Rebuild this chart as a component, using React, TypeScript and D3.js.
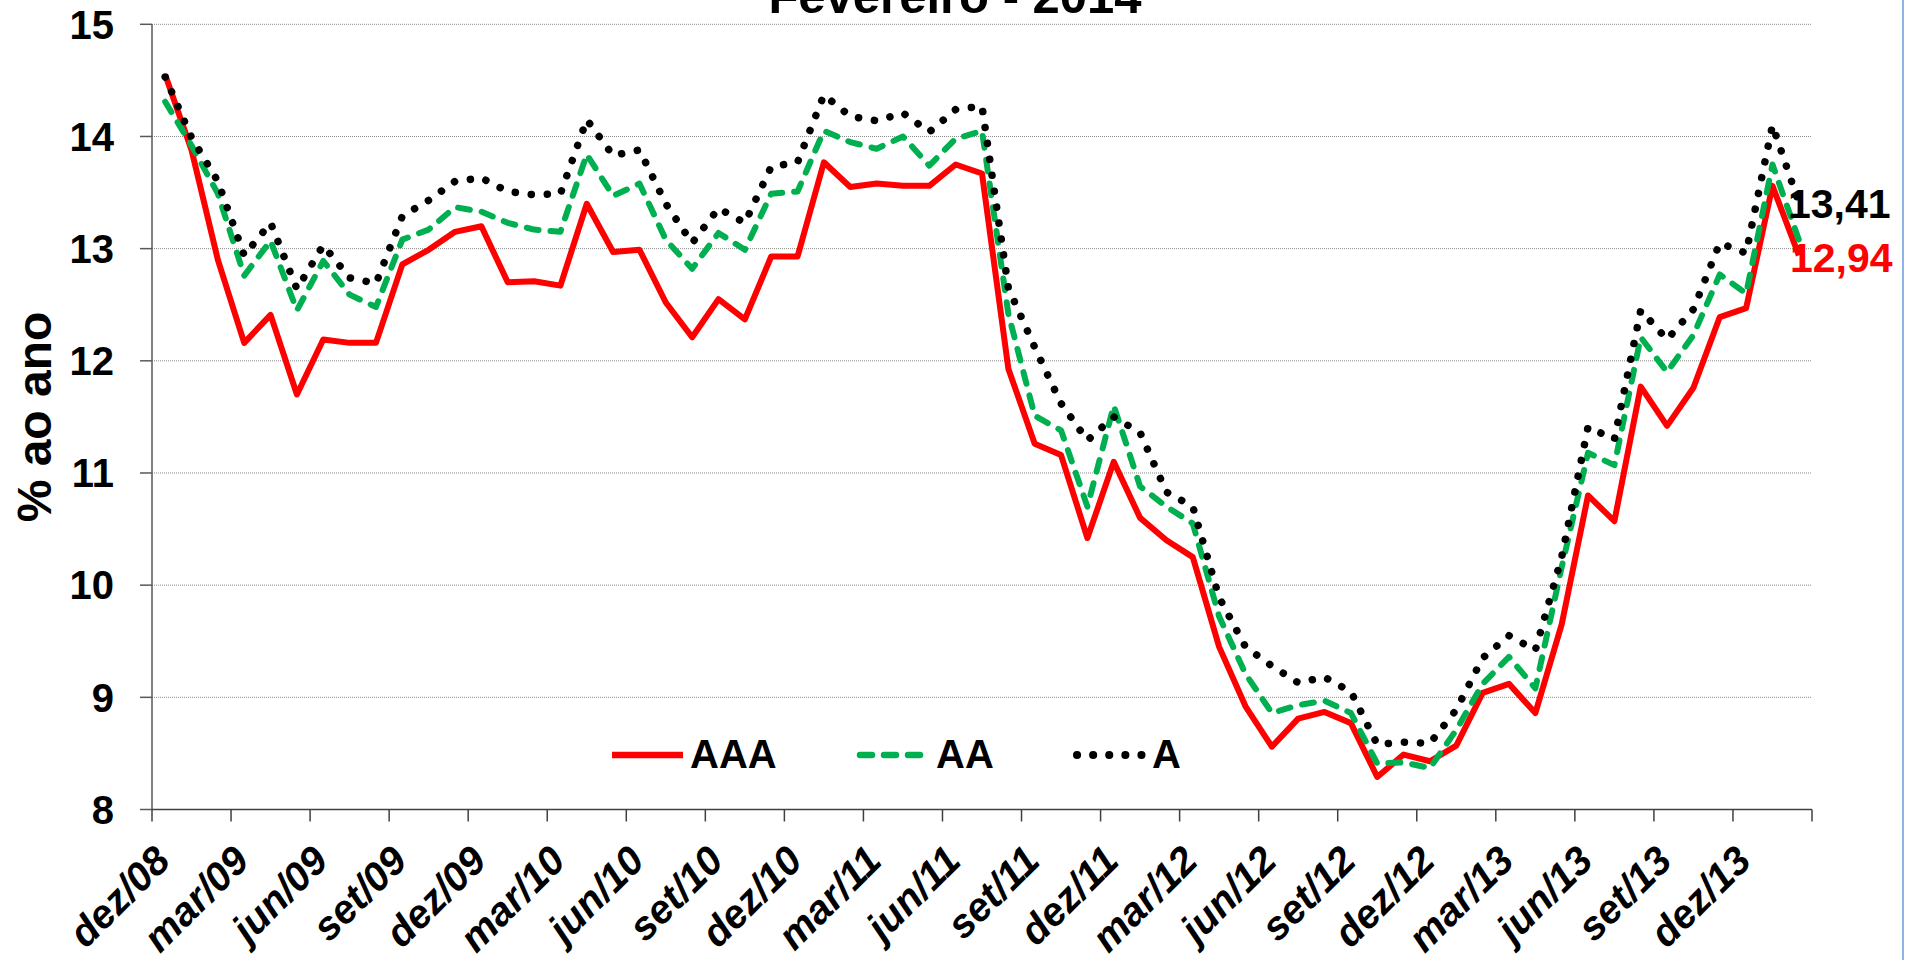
import React from "react";
import * as d3 from "d3";

const categories: string[] = [
  "dez/08","jan/09","fev/09","mar/09","abr/09","mai/09","jun/09","jul/09","ago/09","set/09","out/09","nov/09",
  "dez/09","jan/10","fev/10","mar/10","abr/10","mai/10","jun/10","jul/10","ago/10","set/10","out/10","nov/10",
  "dez/10","jan/11","fev/11","mar/11","abr/11","mai/11","jun/11","jul/11","ago/11","set/11","out/11","nov/11",
  "dez/11","jan/12","fev/12","mar/12","abr/12","mai/12","jun/12","jul/12","ago/12","set/12","out/12","nov/12",
  "dez/12","jan/13","fev/13","mar/13","abr/13","mai/13","jun/13","jul/13","ago/13","set/13","out/13","nov/13",
  "dez/13","jan/14","fev/14",
];

const seriesAAA: number[] = [
  14.55, 13.88, 12.90, 12.16, 12.41, 11.70, 12.19, 12.16, 12.16, 12.86, 12.99, 13.15,
  13.20, 12.70, 12.71, 12.67, 13.40, 12.97, 12.99, 12.52, 12.21, 12.55, 12.37, 12.93,
  12.93, 13.77, 13.55, 13.58, 13.56, 13.56, 13.75, 13.67, 11.93, 11.26, 11.16, 10.42,
  11.10, 10.60, 10.40, 10.25, 9.45, 8.92, 8.56, 8.81, 8.87, 8.77, 8.29, 8.49,
  8.43, 8.57, 9.04, 9.12, 8.86, 9.65, 10.80, 10.57, 11.77, 11.42, 11.76, 12.39,
  12.47, 13.56, 12.94,
];

const seriesAA: number[] = [
  14.31, 13.92, 13.49, 12.76, 13.07, 12.45, 12.89, 12.59, 12.48, 13.08, 13.17, 13.37,
  13.33, 13.23, 13.17, 13.15, 13.84, 13.47, 13.58, 13.08, 12.82, 13.14, 12.99, 13.49,
  13.51, 14.05, 13.95, 13.89, 14.00, 13.74, 13.98, 14.05, 12.42, 11.51, 11.38, 10.70,
  11.60, 10.88, 10.70, 10.55, 9.72, 9.21, 8.86, 8.93, 8.97, 8.86, 8.41, 8.42,
  8.37, 8.71, 9.12, 9.36, 9.08, 10.16, 11.18, 11.07, 12.21, 11.90, 12.23, 12.77,
  12.60, 13.75, 13.08,
];

const seriesA: number[] = [
  14.53, 13.99, 13.60, 12.94, 13.23, 12.64, 13.03, 12.74, 12.69, 13.29, 13.43, 13.60,
  13.63, 13.51, 13.48, 13.49, 14.15, 13.83, 13.88, 13.40, 13.05, 13.36, 13.23, 13.73,
  13.77, 14.37, 14.18, 14.14, 14.21, 14.04, 14.24, 14.27, 12.65, 12.12, 11.62, 11.29,
  11.50, 11.36, 10.83, 10.70, 9.89, 9.45, 9.28, 9.13, 9.18, 9.05, 8.58, 8.60,
  8.59, 8.89, 9.35, 9.55, 9.42, 10.25, 11.41, 11.30, 12.45, 12.19, 12.46, 13.05,
  12.96, 14.10, 13.41,
];

const yTicks: number[] = [8, 9, 10, 11, 12, 13, 14, 15];
const tickStep = 3;
const titleText = "Fevereiro - 2014";
const yTitle = "% ao ano";
const legendNames: string[] = ["AAA", "AA", "A"];
const endLabels: string[] = ["13,41", "12,94"];

const FONT = "'Liberation Sans', Arial, sans-serif";

export default function App() {
  const W = 1916, H = 960;
  const left = 152, right = 1812, top = 24.3, bottom = 809.5;

  const x = d3.scaleBand<number>().domain(d3.range(categories.length)).range([left, right]).padding(0);
  const bw = x.bandwidth();
  const cx = (i: number) => (x(i) as number) + bw / 2;
  const y = d3.scaleLinear().domain([8, 15]).range([bottom, top]);

  const line = d3.line<number>().x((_, i) => cx(i)).y((v) => y(v)).curve(d3.curveLinear);

  const boundaries = d3.range(0, categories.length + 1, tickStep);
  const labelIdx = d3.range(0, categories.length, tickStep).filter((i) => i <= 60);

  const red = "#ff0000", green = "#00b050", black = "#000000";

  const series = [
    { name: legendNames[0], data: seriesAAA, color: red, width: 6, dash: undefined as string | undefined, cap: "butt" },
    { name: legendNames[1], data: seriesAA, color: green, width: 6, dash: "12,12", cap: "round" },
    { name: legendNames[2], data: seriesA, color: black, width: 7.5, dash: "0.1,16", cap: "round" },
  ];

  const legendPos = [
    { x1: 612, x2: 683, tx: 690 },
    { x1: 860, x2: 931, tx: 936 },
    { x1: 1077, x2: 1145, tx: 1152 },
  ];
  const legendY = 755;

  return (
    <svg width={W} height={H} style={{ position: "absolute", left: 0, top: 0, background: "#fff" }} fontFamily={FONT}>
      <rect x={0} y={0} width={W} height={H} fill="#ffffff" />
      {yTicks.filter((t) => t > 8).map((t) => (
        <line key={"g" + t} x1={left} x2={right} y1={y(t)} y2={y(t)} stroke="#8a8a8a" strokeWidth={1} strokeDasharray="1,1" />
      ))}
      <line x1={left} x2={left} y1={top} y2={bottom} stroke="#595959" strokeWidth={1.5} />
      {yTicks.map((t) => (
        <g key={"yt" + t}>
          <line x1={left - 12} x2={left} y1={y(t)} y2={y(t)} stroke="#595959" strokeWidth={1.5} />
          <text x={114} y={y(t) + 14.3} textAnchor="end" fontSize={40} fontWeight="bold" fill="#000">{t}</text>
        </g>
      ))}
      <line x1={left} x2={right} y1={bottom} y2={bottom} stroke="#404040" strokeWidth={1.5} />
      {boundaries.map((b) => {
        const bx = b < categories.length ? (x(b) as number) : right;
        return <line key={"xt" + b} x1={bx} x2={bx} y1={bottom} y2={bottom + 12} stroke="#404040" strokeWidth={1.5} />;
      })}
      {labelIdx.map((i) => (
        <text key={"xl" + i} transform={`translate(${cx(i) + 7},${863}) rotate(-45)`} textAnchor="end"
          fontSize={40} fontWeight="bold" fontStyle="italic" fill="#000">{categories[i]}</text>
      ))}
      {series.map((s) => (
        <path key={s.name} d={line(s.data) as string} fill="none" stroke={s.color} strokeWidth={s.width}
          strokeDasharray={s.dash} strokeLinecap={s.cap as any} strokeLinejoin="round" />
      ))}
      {series.map((s, k) => (
        <g key={"lg" + s.name}>
          <line x1={legendPos[k].x1} x2={legendPos[k].x2} y1={legendY} y2={legendY} stroke={s.color}
            strokeWidth={s.width + 0.5} strokeDasharray={s.dash} strokeLinecap={s.cap as any} />
          <text x={legendPos[k].tx} y={768} fontSize={40} fontWeight="bold" fill="#000">{s.name}</text>
        </g>
      ))}
      <text x={1788} y={218} fontSize={41} fontWeight="bold" fill={black}>{endLabels[0]}</text>
      <text x={1790} y={272} fontSize={41} fontWeight="bold" fill={red}>{endLabels[1]}</text>
      <text x={955} y={13} textAnchor="middle" fontSize={49} fontWeight="bold" fill="#000">{titleText}</text>
      <text transform={`translate(51,417) rotate(-90)`} textAnchor="middle" fontSize={48} fontWeight="bold" fill="#000">{yTitle}</text>
      <line x1={1903} x2={1903} y1={0} y2={H} stroke="#8db3e2" strokeWidth={2} />
    </svg>
  );
}
